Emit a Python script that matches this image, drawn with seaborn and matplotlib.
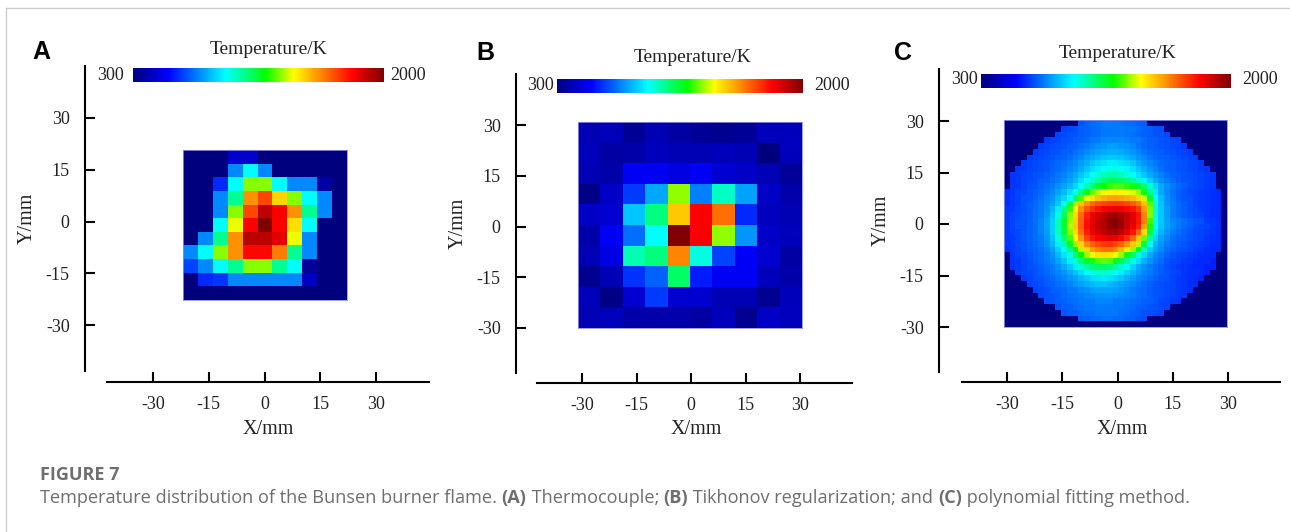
import numpy as np
import pandas as pd
import seaborn as sns
import matplotlib
matplotlib.use('Agg')
import matplotlib.pyplot as plt
from matplotlib.colors import LinearSegmentedColormap
from matplotlib.lines import Line2D

W, H = 1290, 532
D = 300

# Temperatures in K, top row first
temps_a = [
    [D, D, D, 450, 450, D, D, D, D, D, D],
    [D, D, D, 750, 930, 750, D, D, D, D, D],
    [D, D, 600, 930, 1300, 1300, 930, 750, 750, 370, D],
    [D, D, 750, 1048, 1560, 1675, 1455, 1300, 930, 750, D],
    [D, D, 750, 1300, 1675, 1900, 1795, 1560, 1048, 750, D],
    [D, D, 930, 1370, 1790, 2000, 1790, 1440, 930, D, D],
    [D, 750, 1048, 1560, 1900, 1900, 1830, 1370, 750, D, D],
    [750, 930, 1300, 1560, 1775, 1775, 1590, 1048, 750, D, D],
    [640, 750, 930, 1048, 1300, 1300, 1048, 930, 350, D, D],
    [D, 600, 620, 750, 750, 750, 750, 750, 420, D, D],
    [D, D, D, D, D, D, D, D, D, D, D],
]

temps_b = [
    [402, 419, 351, 402, 368, 351, 334, 351, 419, 419],
    [419, 368, 385, 419, 402, 402, 419, 402, 300, 419],
    [402, 385, 520, 520, 490, 520, 453, 436, 402, 351],
    [317, 436, 630, 793, 1303, 737, 997, 785, 436, 385],
    [436, 453, 844, 1065, 1473, 1790, 1609, 600, 419, 402],
    [385, 520, 708, 929, 2000, 1800, 1303, 768, 436, 419],
    [402, 490, 1014, 1065, 1575, 963, 640, 530, 453, 368],
    [334, 402, 615, 691, 1094, 580, 520, 520, 419, 385],
    [419, 317, 453, 630, 453, 453, 402, 402, 334, 419],
    [402, 419, 385, 385, 385, 368, 419, 334, 436, 419],
]

temps_c = [
    [D]*13 + [670, 690, 700, 710, 720, 720, 720, 720, 710, 700, 690, 680] + [D]*14,
    [D]*10 + [640, 650, 660, 680, 690, 700, 710, 720, 720, 730, 730, 720, 720, 710, 690, 680, 670, 660] + [D]*11,
    [D]*9 + [640, 650, 660, 670, 680, 690, 700, 710, 720, 730, 730, 730, 720, 710, 700, 690, 680, 670, 660, 650] + [D]*10,
    [D]*7 + [630, 640, 650, 660, 670, 680, 690, 700, 720, 730, 740, 750, 750, 750, 740, 730, 720, 700, 690, 680, 670, 660, 650, 640] + [D]*8,
    [D]*6 + [630, 640, 650, 660, 670, 680, 690, 710, 720, 740, 760, 770, 780, 780, 770, 760, 740, 720, 700, 690, 680, 670, 660, 650, 640, 630] + [D]*7,
    [D]*5 + [630, 640, 650, 660, 670, 680, 690, 710, 730, 750, 770, 790, 800, 810, 810, 800, 790, 770, 750, 720, 700, 690, 680, 670, 660, 650, 640, 630] + [D]*6,
    [D]*4 + [630, 640, 650, 660, 670, 680, 690, 710, 730, 750, 780, 800, 820, 840, 850, 850, 840, 820, 800, 770, 750, 720, 700, 690, 680, 670, 660, 650, 640, 630] + [D]*5,
    [D]*3 + [630, 640, 650, 660, 670, 680, 700, 710, 730, 750, 780, 810, 840, 870, 890, 900, 900, 890, 870, 840, 800, 770, 750, 720, 700, 690, 680, 670, 660, 650, 640, 630] + [D]*4,
    [D]*2 + [620, 630, 640, 650, 660, 670, 690, 700, 720, 740, 770, 800, 840, 880, 910, 940, 950, 960, 950, 920, 880, 840, 800, 770, 740, 710, 690, 680, 670, 660, 650, 640, 630, 620] + [D]*3,
    [D] + [620, 630, 640, 650, 660, 670, 680, 700, 720, 740, 770, 800, 840, 890, 930, 970, 1000, 1020, 1020, 1000, 970, 940, 890, 850, 800, 770, 740, 710, 690, 680, 670, 660, 650, 640, 630, 620] + [D]*2,
    [D] + [620, 630, 640, 650, 660, 680, 690, 710, 730, 760, 790, 830, 880, 930, 980, 1040, 1090, 1120, 1120, 1110, 1080, 1040, 980, 920, 860, 800, 760, 730, 700, 680, 670, 660, 650, 640, 630, 620] + [D]*2,
    [D] + [620, 630, 640, 660, 670, 690, 710, 730, 760, 790, 820, 870, 930, 1000, 1080, 1150, 1200, 1240, 1260, 1250, 1230, 1210, 1160, 1080, 980, 870, 800, 760, 720, 700, 680, 660, 650, 640, 630, 620] + [D]*2,
    [610, 620, 640, 650, 670, 680, 700, 720, 750, 790, 830, 880, 950, 1060, 1170, 1280, 1340, 1380, 1400, 1410, 1400, 1380, 1360, 1310, 1210, 1050, 900, 800, 750, 710, 690, 670, 650, 640, 630, 620, 610, 600, D],
    [610, 630, 640, 660, 670, 690, 710, 740, 770, 820, 870, 940, 1080, 1250, 1370, 1430, 1480, 1510, 1530, 1540, 1530, 1510, 1490, 1450, 1350, 1150, 940, 830, 760, 720, 690, 670, 660, 640, 630, 620, 610, 600, D],
    [610, 630, 640, 660, 680, 700, 720, 750, 790, 850, 950, 1120, 1320, 1480, 1560, 1620, 1660, 1680, 1690, 1700, 1690, 1670, 1640, 1590, 1480, 1260, 970, 840, 770, 730, 700, 680, 660, 640, 630, 620, 610, 600, D],
    [620, 630, 650, 660, 680, 700, 730, 760, 820, 900, 1060, 1240, 1400, 1560, 1650, 1710, 1760, 1790, 1810, 1820, 1810, 1780, 1750, 1690, 1540, 1290, 980, 850, 780, 730, 700, 680, 660, 650, 630, 620, 610, 600, D],
    [620, 640, 650, 670, 680, 710, 730, 770, 840, 960, 1110, 1300, 1440, 1620, 1740, 1810, 1860, 1890, 1930, 1950, 1920, 1880, 1830, 1750, 1580, 1290, 970, 850, 780, 730, 700, 680, 670, 650, 640, 620, 610, 600, D],
    [620, 640, 660, 670, 690, 710, 740, 790, 860, 1010, 1150, 1320, 1460, 1630, 1760, 1830, 1880, 1920, 1970, 2000, 1950, 1880, 1830, 1760, 1580, 1240, 950, 850, 790, 750, 730, 710, 690, 670, 660, 630, 620, 610, D],
    [620, 640, 660, 670, 690, 710, 740, 790, 860, 1010, 1160, 1330, 1470, 1640, 1770, 1840, 1880, 1920, 1960, 1990, 1950, 1880, 1820, 1730, 1530, 1210, 930, 840, 790, 750, 720, 700, 680, 660, 650, 640, 620, 610, D],
    [620, 640, 650, 670, 690, 710, 740, 780, 860, 1000, 1140, 1300, 1440, 1610, 1740, 1810, 1860, 1890, 1920, 1930, 1890, 1830, 1760, 1630, 1430, 1130, 900, 820, 770, 730, 710, 690, 670, 650, 640, 630, 620, 600, D],
    [620, 630, 650, 670, 690, 710, 730, 770, 840, 960, 1090, 1250, 1390, 1550, 1680, 1750, 1790, 1810, 1830, 1820, 1780, 1710, 1620, 1480, 1280, 1030, 870, 790, 750, 710, 690, 680, 660, 650, 640, 620, 610, 600, D],
    [620, 630, 650, 660, 680, 700, 720, 760, 820, 910, 1020, 1160, 1310, 1450, 1570, 1640, 1680, 1700, 1710, 1680, 1630, 1560, 1470, 1330, 1120, 930, 820, 770, 730, 700, 680, 670, 650, 640, 630, 620, 610, 600, D],
    [610, 630, 640, 660, 680, 690, 710, 740, 790, 860, 950, 1060, 1190, 1330, 1450, 1540, 1580, 1610, 1610, 1570, 1500, 1420, 1310, 1170, 990, 860, 790, 750, 710, 690, 670, 660, 650, 630, 620, 610, 600, 600, D],
    [D] + [620, 640, 650, 670, 690, 700, 730, 770, 820, 890, 970, 1080, 1190, 1310, 1390, 1430, 1440, 1430, 1390, 1310, 1210, 1100, 970, 870, 800, 750, 720, 690, 670, 650, 640, 630, 620, 610, 600, 600] + [D]*2,
    [D] + [620, 630, 650, 660, 680, 700, 720, 750, 790, 840, 910, 990, 1080, 1160, 1220, 1260, 1270, 1260, 1210, 1130, 1050, 960, 880, 810, 770, 730, 700, 670, 650, 640, 630, 620, 610, 600, 600, 590] + [D]*2,
    [D] + [620, 630, 640, 660, 670, 690, 710, 730, 760, 800, 850, 910, 980, 1040, 1080, 1100, 1100, 1080, 1040, 980, 920, 860, 800, 760, 730, 700, 680, 660, 640, 630, 620, 610, 600, 600, 590, 590] + [D]*2,
    [D]*2 + [630, 640, 650, 670, 680, 700, 720, 740, 770, 800, 840, 880, 930, 960, 980, 980, 970, 940, 900, 860, 820, 780, 750, 730, 700, 680, 670, 650, 640, 620, 610, 610, 600, 590] + [D]*3,
    [D]*3 + [630, 640, 660, 670, 690, 700, 720, 740, 770, 790, 820, 850, 880, 890, 900, 890, 870, 840, 810, 780, 750, 730, 710, 690, 670, 660, 640, 630, 620, 610, 600, 590] + [D]*4,
    [D]*4 + [640, 650, 660, 680, 690, 710, 720, 740, 770, 790, 810, 830, 840, 840, 830, 810, 790, 770, 750, 730, 710, 690, 670, 660, 650, 640, 630, 620, 610, 600] + [D]*5,
    [D]*5 + [640, 650, 660, 680, 690, 700, 720, 730, 750, 760, 780, 790, 790, 790, 780, 770, 750, 730, 710, 700, 680, 670, 660, 650, 640, 630, 620, 610] + [D]*6,
    [D]*6 + [650, 660, 670, 680, 700, 710, 720, 730, 740, 750, 760, 760, 760, 760, 750, 740, 730, 710, 700, 680, 670, 660, 650, 640, 630, 620] + [D]*7,
    [D]*7 + [660, 670, 680, 690, 700, 710, 720, 730, 730, 740, 740, 740, 730, 730, 720, 710, 700, 690, 680, 670, 650, 640, 630, 620] + [D]*8,
    [D]*9 + [670, 680, 690, 700, 710, 720, 720, 730, 730, 730, 720, 720, 710, 700, 690, 680, 670, 660, 650, 640] + [D]*10,
    [D]*10 + [670, 680, 690, 700, 710, 710, 720, 720, 720, 720, 710, 700, 690, 680, 670, 660, 650, 640] + [D]*11,
    [D]*13 + [680, 690, 700, 700, 710, 710, 700, 700, 690, 680, 670, 660] + [D]*14,
    [D]*39,
]

tick_values = [-30, -15, 0, 15, 30]
bar_labels = ['300', '2000']
letters = ['A', 'B', 'C']

# Colour bar stops
flame = LinearSegmentedColormap.from_list('flame', [
    (0.0, '#00007f'), (0.14, '#0000ff'), (0.37, '#00ffff'), (0.53, '#00ff00'),
    (0.64, '#ffff00'), (0.875, '#ff0000'), (1.0, '#800000')])

# Pixel layout of each panel, measured on the reference
panels = [
    dict(temps=temps_a, heat=(183, 150, 347, 300), bar=(133, 68, 384, 82),
         spine_x=85, spine_y=(66, 371), axis_y=382, axis_x=(107, 429),
         xt=(153, 376), yt=(118, 325), title=(269, 49), low=(110, 76), high=(408, 76),
         xlab=(268, 429), ylab=(27, 218), letter=(41, 52)),
    dict(temps=temps_b, heat=(578, 122, 802, 328), bar=(557, 79, 803, 93),
         spine_x=516, spine_y=(74, 373), axis_y=383, axis_x=(537, 852),
         xt=(582, 800), yt=(125, 328), title=(693, 58), low=(540, 85), high=(832, 85),
         xlab=(696, 430), ylab=(458, 223), letter=(485, 53)),
    dict(temps=temps_c, heat=(1004, 120, 1227, 327), bar=(981, 74, 1231, 88),
         spine_x=939, spine_y=(69, 372), axis_y=382, axis_x=(962, 1280),
         xt=(1007, 1228), yt=(121, 327), title=(1118, 53), low=(964, 80), high=(1260, 80),
         xlab=(1122, 429), ylab=(881, 220), letter=(903, 53)),
]

sns.set_theme(style='white', rc={'font.family': 'Liberation Serif', 'axes.unicode_minus': False})
fig = plt.figure(figsize=(W / 100, H / 100), dpi=100)


def add_px_axes(x0, y0, x1, y1):
    return fig.add_axes([x0 / W, 1 - y1 / H, (x1 - x0) / W, (y1 - y0) / H])


def px_text(x, y, s, **kw):
    kw.setdefault('ha', 'center')
    kw.setdefault('va', 'center')
    return fig.text(x / W, 1 - y / H, s, **kw)


for p in panels:
    # frame axes carries the detached mm axes
    x0, x1 = p['axis_x']
    y_top, y_bot = p['spine_y']
    left, bottom = p['spine_x'], p['axis_y']
    frame = add_px_axes(left, y_top, x1, bottom)
    mm_x = 60 / (p['xt'][1] - p['xt'][0])
    mm_y = 60 / (p['yt'][1] - p['yt'][0])
    cx = (p['xt'][0] + p['xt'][1]) / 2
    cy = (p['yt'][0] + p['yt'][1]) / 2
    frame.set_xlim((left - cx) * mm_x, (x1 - cx) * mm_x)
    frame.set_ylim((cy - bottom) * mm_y, (cy - y_top) * mm_y)
    frame.patch.set_alpha(0)
    sns.despine(ax=frame)
    frame.spines['bottom'].set_bounds((x0 - cx) * mm_x, (x1 - cx) * mm_x)
    frame.spines['left'].set_bounds((cy - y_bot) * mm_y, (cy - y_top) * mm_y)
    for s in ['left', 'bottom']:
        frame.spines[s].set_linewidth(1.5)
        frame.spines[s].set_color('black')
    frame.set_xticks(tick_values)
    frame.set_yticks(tick_values)
    frame.tick_params(axis='x', direction='in', length=7, width=1.5, color='black', pad=10, labelsize=13, labelcolor='#222222')
    frame.tick_params(axis='y', direction='in', length=7, width=1.5, color='black', pad=11, labelsize=13, labelcolor='#222222')
    frame.tick_params(bottom=True, left=True)

    heat = add_px_axes(*p['heat'])
    bar = add_px_axes(*p['bar'])
    sns.heatmap(pd.DataFrame(np.array(p['temps'])), ax=heat, cmap=flame, vmin=300, vmax=2000,
                xticklabels=False, yticklabels=False, cbar_ax=bar,
                cbar_kws={'orientation': 'horizontal', 'ticks': []})
    for s in heat.spines.values():
        s.set_visible(True)
        s.set_color('#8f8fe8')
        s.set_linewidth(0.6)

    px_text(*p['title'], 'Temperature/K', fontsize=14, color='#222222')
    px_text(*p['low'], bar_labels[0], fontsize=13, color='#222222')
    px_text(*p['high'], bar_labels[1], fontsize=13, color='#222222')
    px_text(*p['xlab'], 'X/mm', fontsize=14.5, color='#222222')
    px_text(*p['ylab'], 'Y/mm', fontsize=14.5, rotation=90, color='#222222')

for p, letter in zip(panels, letters):
    px_text(*p['letter'], letter, fontsize=18, fontweight='bold', family='Liberation Sans', color='black')

# page rules and caption
fig.add_artist(Line2D([6 / W, 1], [1 - 8 / H, 1 - 8 / H], color='#cccccc', lw=1))
fig.add_artist(Line2D([6 / W, 6 / W], [0, 1 - 8 / H], color='#cccccc', lw=1))
px_text(40, 475, 'FIGURE 7', ha='left', fontsize=13, fontweight='bold', family='Open Sans', color='#6e6e6e')

caption = [('Temperature distribution of the Bunsen burner flame. ', 'normal'), ('(A)', 'bold'),
           (' Thermocouple; ', 'normal'), ('(B)', 'bold'), (' Tikhonov regularization; and ', 'normal'),
           ('(C)', 'bold'), (' polynomial fitting method.', 'normal')]
renderer = fig.canvas.get_renderer()
x = 40
for seg, weight in caption:
    t = px_text(x, 498, seg.replace(' ', '\u00a0'), ha='left', fontsize=13.1, fontweight=weight,
                family='Open Sans', color='#6e6e6e')
    x = t.get_window_extent(renderer).x1

fig.savefig('out.png', dpi=100)
